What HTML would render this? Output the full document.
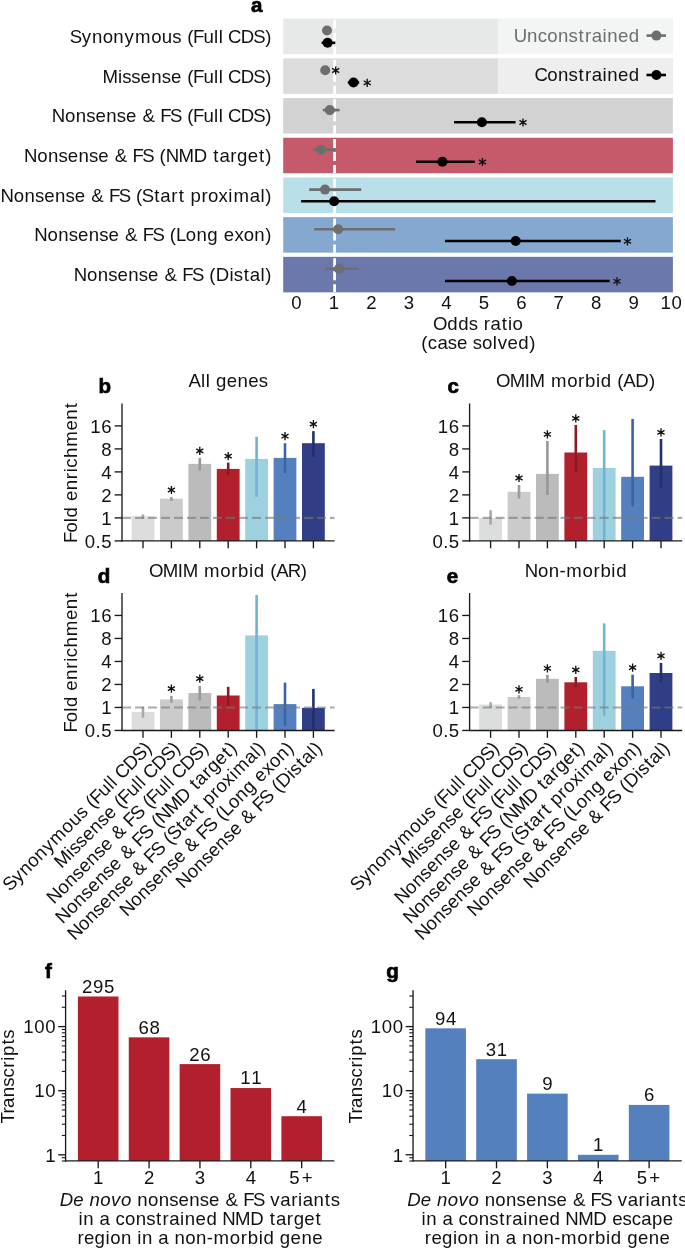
<!DOCTYPE html>
<html><head><meta charset="utf-8"><style>
html,body{margin:0;padding:0;background:#fff;}
svg{display:block;will-change:transform;}
text{font-family:"Liberation Sans",sans-serif;font-size:18.6px;fill:#111111;}
</style></head><body>
<svg width="685" height="1249" viewBox="0 0 685 1249">
<rect width="685" height="1249" fill="#fff"/>
<defs><g id="ast"><path d="M0 -4.1V4.1M-3.55 -2.05L3.55 2.05M-3.55 2.05L3.55 -2.05" stroke="#111" stroke-width="1.35" fill="none"/></g></defs>
<rect x="283.20" y="18.65" width="389.70" height="35.50" fill="#e7e8e8"/>
<rect x="283.20" y="58.35" width="389.70" height="35.50" fill="#dcdcdc"/>
<rect x="283.20" y="98.05" width="389.70" height="35.50" fill="#d2d2d2"/>
<rect x="283.20" y="137.75" width="389.70" height="35.50" fill="#c55a6b"/>
<rect x="283.20" y="177.45" width="389.70" height="35.50" fill="#b9e0e8"/>
<rect x="283.20" y="217.15" width="389.70" height="35.50" fill="#85a8d0"/>
<rect x="283.20" y="256.85" width="389.70" height="35.50" fill="#6b78ac"/>
<rect x="497.80" y="18.65" width="175.10" height="35.50" fill="#fff" fill-opacity="0.5"/>
<rect x="497.80" y="58.35" width="175.10" height="35.50" fill="#fff" fill-opacity="0.5"/>
<line x1="334.60" y1="19.95" x2="334.60" y2="54.15" stroke="#fff" stroke-width="2.8" stroke-dasharray="9 4"/>
<line x1="334.60" y1="59.65" x2="334.60" y2="93.85" stroke="#fff" stroke-width="2.8" stroke-dasharray="9 4"/>
<line x1="334.60" y1="99.35" x2="334.60" y2="133.55" stroke="#fff" stroke-width="2.8" stroke-dasharray="9 4"/>
<line x1="334.60" y1="139.05" x2="334.60" y2="173.25" stroke="#fff" stroke-width="2.8" stroke-dasharray="9 4"/>
<line x1="334.60" y1="178.75" x2="334.60" y2="212.95" stroke="#fff" stroke-width="2.8" stroke-dasharray="9 4"/>
<line x1="334.60" y1="218.45" x2="334.60" y2="252.65" stroke="#fff" stroke-width="2.8" stroke-dasharray="9 4"/>
<line x1="334.60" y1="258.15" x2="334.60" y2="292.35" stroke="#fff" stroke-width="2.8" stroke-dasharray="9 4"/>
<circle cx="327.00" cy="30.50" r="5.0" fill="#6e6e6e"/>
<line x1="321.60" y1="42.80" x2="335.30" y2="42.80" stroke="#000" stroke-width="2.6"/>
<circle cx="327.60" cy="42.80" r="5.0" fill="#000"/>
<text x="69.71 81.84 91.89 102.63 113.37 124.47 134.88 151.13 161.87 172.36 181.66 187.25 192.99 203.46 213.95 218.75 223.37 228.00 240.66 253.29 265.24" y="42.90">Synonymous (Full CDS)</text>
<circle cx="325.20" cy="70.20" r="5.0" fill="#6e6e6e"/>
<use href="#ast" x="335.70" y="70.50"/>
<line x1="347.80" y1="82.50" x2="359.20" y2="82.50" stroke="#000" stroke-width="2.6"/>
<circle cx="353.50" cy="82.50" r="5.0" fill="#000"/>
<use href="#ast" x="367.20" y="82.80"/>
<text x="102.40 117.92 122.22 131.21 140.49 151.26 161.74 171.02 181.66 187.25 192.99 203.46 213.95 218.75 223.37 228.00 240.66 253.29 265.24" y="82.60">Missense (Full CDS)</text>
<line x1="322.80" y1="110.10" x2="339.60" y2="110.10" stroke="#6e6e6e" stroke-width="2.6"/>
<circle cx="329.80" cy="110.10" r="5.0" fill="#6e6e6e"/>
<line x1="454.00" y1="122.20" x2="515.60" y2="122.20" stroke="#000" stroke-width="2.6"/>
<circle cx="481.90" cy="122.20" r="5.0" fill="#000"/>
<use href="#ast" x="523.00" y="122.50"/>
<text x="51.72 65.00 75.74 86.22 95.50 106.27 116.76 126.03 136.67 142.52 155.60 160.21 169.97 181.66 187.25 192.99 203.46 213.95 218.75 223.37 228.00 240.66 253.29 265.24" y="122.30">Nonsense &amp; FS (Full CDS)</text>
<line x1="313.30" y1="149.70" x2="335.00" y2="149.70" stroke="#6e6e6e" stroke-width="2.6"/>
<circle cx="321.00" cy="149.70" r="5.0" fill="#6e6e6e"/>
<line x1="416.00" y1="161.70" x2="474.80" y2="161.70" stroke="#000" stroke-width="2.6"/>
<circle cx="442.40" cy="161.70" r="5.0" fill="#000"/>
<use href="#ast" x="482.40" y="162.00"/>
<text x="23.98 37.25 48.00 58.48 67.76 78.53 89.01 98.29 108.93 114.77 127.86 132.47 142.23 153.91 159.51 165.70 178.57 193.68 207.20 213.32 219.40 230.30 237.10 247.73 259.00 265.24" y="162.00">Nonsense &amp; FS (NMD target)</text>
<line x1="309.20" y1="189.60" x2="361.20" y2="189.60" stroke="#6e6e6e" stroke-width="2.6"/>
<circle cx="325.00" cy="189.60" r="5.0" fill="#6e6e6e"/>
<line x1="301.10" y1="201.20" x2="655.50" y2="201.20" stroke="#000" stroke-width="2.6"/>
<circle cx="334.10" cy="201.20" r="5.0" fill="#000"/>
<text x="0.51 13.78 24.52 35.00 44.28 55.05 65.54 74.81 85.45 91.30 104.39 108.99 118.75 130.44 136.03 141.76 154.24 160.32 171.23 178.67 184.79 190.42 201.51 208.07 218.52 228.34 233.46 249.72 260.51 265.24" y="201.70">Nonsense &amp; FS (Start proximal)</text>
<line x1="314.20" y1="229.30" x2="395.10" y2="229.30" stroke="#6e6e6e" stroke-width="2.6"/>
<circle cx="338.10" cy="229.30" r="5.0" fill="#6e6e6e"/>
<line x1="445.00" y1="241.00" x2="620.80" y2="241.00" stroke="#000" stroke-width="2.6"/>
<circle cx="515.70" cy="241.00" r="5.0" fill="#000"/>
<use href="#ast" x="627.50" y="241.30"/>
<text x="34.28 47.55 58.30 68.78 78.06 88.83 99.31 108.59 119.23 125.07 138.16 142.77 152.53 164.21 169.81 175.90 185.83 196.42 207.37 218.17 223.63 234.41 243.85 254.33 265.24" y="241.40">Nonsense &amp; FS (Long exon)</text>
<line x1="325.30" y1="268.70" x2="358.60" y2="268.70" stroke="#6e6e6e" stroke-width="2.6"/>
<circle cx="339.00" cy="268.70" r="5.0" fill="#6e6e6e"/>
<line x1="445.00" y1="281.00" x2="609.70" y2="281.00" stroke="#000" stroke-width="2.6"/>
<circle cx="511.90" cy="281.00" r="5.0" fill="#000"/>
<use href="#ast" x="617.00" y="281.30"/>
<text x="73.79 87.07 97.81 108.29 117.57 128.34 138.82 148.10 158.74 164.59 177.67 182.28 192.04 203.73 209.32 215.71 229.39 233.70 243.64 249.72 260.51 265.24" y="281.10">Nonsense &amp; FS (Distal)</text>
<text x="291.33" y="308.80">0</text>
<text x="328.80" y="308.80">1</text>
<text x="366.27" y="308.80">2</text>
<text x="403.74" y="308.80">3</text>
<text x="441.21" y="308.80">4</text>
<text x="478.68" y="308.80">5</text>
<text x="516.15" y="308.80">6</text>
<text x="553.62" y="308.80">7</text>
<text x="591.09" y="308.80">8</text>
<text x="628.56" y="308.80">9</text>
<text x="660.54 671.52" y="308.80">10</text>
<text x="432.89 447.22 458.17 468.66 477.96 483.74 490.49 501.75 508.04 512.61" y="330.00">Odds ratio</text>
<text x="421.32 427.87 437.38 447.68 456.95 467.59 472.76 482.01 492.79 497.70 507.59 518.37 529.29" y="349.10">(case solved)</text>
<text x="513.76 527.09 537.82 547.32 558.06 568.54 578.48 584.90 591.65 602.44 607.20 617.97 628.75" y="41.50" style="fill:#6e6e6e;">Unconstrained</text>
<text x="534.47 547.32 558.06 568.54 578.48 584.90 591.65 602.44 607.20 617.97 628.75" y="81.00">Constrained</text>
<line x1="646.50" y1="35.60" x2="666.00" y2="35.60" stroke="#6e6e6e" stroke-width="2.6"/>
<circle cx="656.40" cy="35.60" r="5.0" fill="#6e6e6e"/>
<line x1="646.50" y1="75.00" x2="666.00" y2="75.00" stroke="#000" stroke-width="2.6"/>
<circle cx="656.40" cy="75.00" r="5.0" fill="#000"/>
<text x="251.10" y="12.30" style="font-size:20.5px;font-weight:bold;stroke:#000;stroke-width:0.7px;fill:#000;">a</text>
<rect x="131.60" y="516.20" width="22.80" height="24.70" fill="#dcdddd"/>
<line x1="143.00" y1="514.40" x2="143.00" y2="519.00" stroke="#a8a8a8" stroke-width="2.6"/>
<line x1="143.00" y1="540.90" x2="143.00" y2="548.30" stroke="#1a1a1a" stroke-width="1.35"/>
<rect x="160.00" y="498.70" width="22.80" height="42.20" fill="#cbcbcb"/>
<line x1="171.40" y1="497.00" x2="171.40" y2="500.90" stroke="#9c9c9c" stroke-width="2.6"/>
<use href="#ast" x="171.40" y="490.00"/>
<line x1="171.40" y1="540.90" x2="171.40" y2="548.30" stroke="#1a1a1a" stroke-width="1.35"/>
<rect x="188.40" y="463.90" width="22.80" height="77.00" fill="#bbbbbb"/>
<line x1="199.80" y1="457.90" x2="199.80" y2="470.50" stroke="#979797" stroke-width="2.6"/>
<use href="#ast" x="199.80" y="450.90"/>
<line x1="199.80" y1="540.90" x2="199.80" y2="548.30" stroke="#1a1a1a" stroke-width="1.35"/>
<rect x="216.80" y="468.90" width="22.80" height="72.00" fill="#b2202e"/>
<line x1="228.20" y1="462.60" x2="228.20" y2="475.20" stroke="#8c1a24" stroke-width="2.6"/>
<use href="#ast" x="228.20" y="456.10"/>
<line x1="228.20" y1="540.90" x2="228.20" y2="548.30" stroke="#1a1a1a" stroke-width="1.35"/>
<rect x="245.20" y="458.90" width="22.80" height="82.00" fill="#9ed1df"/>
<line x1="256.60" y1="436.70" x2="256.60" y2="496.90" stroke="#70b4d2" stroke-width="2.6"/>
<line x1="256.60" y1="540.90" x2="256.60" y2="548.30" stroke="#1a1a1a" stroke-width="1.35"/>
<rect x="273.60" y="457.90" width="22.80" height="83.00" fill="#5580be"/>
<line x1="285.00" y1="443.20" x2="285.00" y2="472.90" stroke="#3b64a0" stroke-width="2.6"/>
<use href="#ast" x="285.00" y="436.20"/>
<line x1="285.00" y1="540.90" x2="285.00" y2="548.30" stroke="#1a1a1a" stroke-width="1.35"/>
<rect x="302.00" y="443.20" width="22.80" height="97.70" fill="#2f3e85"/>
<line x1="313.40" y1="431.10" x2="313.40" y2="456.80" stroke="#22306b" stroke-width="2.6"/>
<use href="#ast" x="313.40" y="424.10"/>
<line x1="313.40" y1="540.90" x2="313.40" y2="548.30" stroke="#1a1a1a" stroke-width="1.35"/>
<line x1="122.00" y1="517.90" x2="334.60" y2="517.90" stroke="#777777" stroke-width="2.1" stroke-dasharray="9 4" stroke-opacity="0.6"/>
<line x1="122.00" y1="403.50" x2="122.00" y2="541.55" stroke="#1a1a1a" stroke-width="1.35"/>
<line x1="121.35" y1="540.90" x2="334.60" y2="540.90" stroke="#1a1a1a" stroke-width="1.35"/>
<line x1="114.60" y1="540.90" x2="122.00" y2="540.90" stroke="#1a1a1a" stroke-width="1.35"/>
<text x="84.78 95.60 101.24" y="547.50">0.5</text>
<line x1="114.60" y1="517.90" x2="122.00" y2="517.90" stroke="#1a1a1a" stroke-width="1.35"/>
<text x="101.24" y="524.50">1</text>
<line x1="114.60" y1="494.90" x2="122.00" y2="494.90" stroke="#1a1a1a" stroke-width="1.35"/>
<text x="101.24" y="501.50">2</text>
<line x1="114.60" y1="471.90" x2="122.00" y2="471.90" stroke="#1a1a1a" stroke-width="1.35"/>
<text x="101.24" y="478.50">4</text>
<line x1="114.60" y1="448.90" x2="122.00" y2="448.90" stroke="#1a1a1a" stroke-width="1.35"/>
<text x="101.24" y="455.50">8</text>
<line x1="114.60" y1="425.90" x2="122.00" y2="425.90" stroke="#1a1a1a" stroke-width="1.35"/>
<text x="90.27 101.24" y="432.50">16</text>
<text x="188.51 200.95 205.74 210.36 215.99 226.77 237.54 248.32 258.64" y="387.10">All genes</text>
<text x="6.06 16.50 26.97 31.73 42.54 48.00 58.77 69.86 76.83 81.39 91.07 102.37 118.65 129.42 140.86" y="472.30" transform="rotate(-90 76.80 472.30)">Fold enrichment</text>
<rect x="479.20" y="518.00" width="22.80" height="22.90" fill="#dcdddd"/>
<line x1="490.60" y1="510.20" x2="490.60" y2="524.70" stroke="#a8a8a8" stroke-width="2.6"/>
<line x1="490.60" y1="540.90" x2="490.60" y2="548.30" stroke="#1a1a1a" stroke-width="1.35"/>
<rect x="507.60" y="491.80" width="22.80" height="49.10" fill="#cbcbcb"/>
<line x1="519.00" y1="485.00" x2="519.00" y2="498.50" stroke="#9c9c9c" stroke-width="2.6"/>
<use href="#ast" x="519.00" y="478.00"/>
<line x1="519.00" y1="540.90" x2="519.00" y2="548.30" stroke="#1a1a1a" stroke-width="1.35"/>
<rect x="536.00" y="473.90" width="22.80" height="67.00" fill="#bbbbbb"/>
<line x1="547.40" y1="441.00" x2="547.40" y2="495.00" stroke="#979797" stroke-width="2.6"/>
<use href="#ast" x="547.40" y="434.30"/>
<line x1="547.40" y1="540.90" x2="547.40" y2="548.30" stroke="#1a1a1a" stroke-width="1.35"/>
<rect x="564.40" y="452.50" width="22.80" height="88.40" fill="#b2202e"/>
<line x1="575.80" y1="424.90" x2="575.80" y2="472.10" stroke="#8c1a24" stroke-width="2.6"/>
<use href="#ast" x="575.80" y="418.40"/>
<line x1="575.80" y1="540.90" x2="575.80" y2="548.30" stroke="#1a1a1a" stroke-width="1.35"/>
<rect x="592.80" y="467.90" width="22.80" height="73.00" fill="#9ed1df"/>
<line x1="604.20" y1="430.10" x2="604.20" y2="540.70" stroke="#70b4d2" stroke-width="2.6"/>
<line x1="604.20" y1="540.90" x2="604.20" y2="548.30" stroke="#1a1a1a" stroke-width="1.35"/>
<rect x="621.20" y="476.80" width="22.80" height="64.10" fill="#5580be"/>
<line x1="632.60" y1="418.90" x2="632.60" y2="506.50" stroke="#3b64a0" stroke-width="2.6"/>
<line x1="632.60" y1="540.90" x2="632.60" y2="548.30" stroke="#1a1a1a" stroke-width="1.35"/>
<rect x="649.60" y="465.60" width="22.80" height="75.30" fill="#2f3e85"/>
<line x1="661.00" y1="439.00" x2="661.00" y2="487.50" stroke="#22306b" stroke-width="2.6"/>
<use href="#ast" x="661.00" y="432.40"/>
<line x1="661.00" y1="540.90" x2="661.00" y2="548.30" stroke="#1a1a1a" stroke-width="1.35"/>
<line x1="469.60" y1="517.90" x2="682.20" y2="517.90" stroke="#777777" stroke-width="2.1" stroke-dasharray="9 4" stroke-opacity="0.6"/>
<line x1="469.60" y1="403.50" x2="469.60" y2="541.55" stroke="#1a1a1a" stroke-width="1.35"/>
<line x1="468.95" y1="540.90" x2="682.20" y2="540.90" stroke="#1a1a1a" stroke-width="1.35"/>
<line x1="462.20" y1="540.90" x2="469.60" y2="540.90" stroke="#1a1a1a" stroke-width="1.35"/>
<text x="432.38 443.20 448.84" y="547.50">0.5</text>
<line x1="462.20" y1="517.90" x2="469.60" y2="517.90" stroke="#1a1a1a" stroke-width="1.35"/>
<text x="448.84" y="524.50">1</text>
<line x1="462.20" y1="494.90" x2="469.60" y2="494.90" stroke="#1a1a1a" stroke-width="1.35"/>
<text x="448.84" y="501.50">2</text>
<line x1="462.20" y1="471.90" x2="469.60" y2="471.90" stroke="#1a1a1a" stroke-width="1.35"/>
<text x="448.84" y="478.50">4</text>
<line x1="462.20" y1="448.90" x2="469.60" y2="448.90" stroke="#1a1a1a" stroke-width="1.35"/>
<text x="448.84" y="455.50">8</text>
<line x1="462.20" y1="425.90" x2="469.60" y2="425.90" stroke="#1a1a1a" stroke-width="1.35"/>
<text x="437.87 448.84" y="432.50">16</text>
<text x="495.91 509.63 524.78 529.60 544.95 550.93 567.18 578.08 585.03 596.00 600.77 611.57 617.17 623.33 635.35 648.98" y="387.10">OMIM morbid (AD)</text>
<rect x="131.60" y="712.00" width="22.80" height="18.45" fill="#dcdddd"/>
<line x1="143.00" y1="706.80" x2="143.00" y2="717.70" stroke="#a8a8a8" stroke-width="2.6"/>
<line x1="143.00" y1="730.45" x2="143.00" y2="737.85" stroke="#1a1a1a" stroke-width="1.35"/>
<rect x="160.00" y="699.40" width="22.80" height="31.05" fill="#cbcbcb"/>
<line x1="171.40" y1="695.90" x2="171.40" y2="702.80" stroke="#9c9c9c" stroke-width="2.6"/>
<use href="#ast" x="171.40" y="688.60"/>
<line x1="171.40" y1="730.45" x2="171.40" y2="737.85" stroke="#1a1a1a" stroke-width="1.35"/>
<rect x="188.40" y="693.00" width="22.80" height="37.45" fill="#bbbbbb"/>
<line x1="199.80" y1="686.00" x2="199.80" y2="700.50" stroke="#979797" stroke-width="2.6"/>
<use href="#ast" x="199.80" y="678.60"/>
<line x1="199.80" y1="730.45" x2="199.80" y2="737.85" stroke="#1a1a1a" stroke-width="1.35"/>
<rect x="216.80" y="695.50" width="22.80" height="34.95" fill="#b2202e"/>
<line x1="228.20" y1="686.80" x2="228.20" y2="706.00" stroke="#8c1a24" stroke-width="2.6"/>
<line x1="228.20" y1="730.45" x2="228.20" y2="737.85" stroke="#1a1a1a" stroke-width="1.35"/>
<rect x="245.20" y="635.40" width="22.80" height="95.05" fill="#9ed1df"/>
<line x1="256.60" y1="595.00" x2="256.60" y2="730.20" stroke="#70b4d2" stroke-width="2.6"/>
<line x1="256.60" y1="730.45" x2="256.60" y2="737.85" stroke="#1a1a1a" stroke-width="1.35"/>
<rect x="273.60" y="704.10" width="22.80" height="26.35" fill="#5580be"/>
<line x1="285.00" y1="682.60" x2="285.00" y2="725.90" stroke="#3b64a0" stroke-width="2.6"/>
<line x1="285.00" y1="730.45" x2="285.00" y2="737.85" stroke="#1a1a1a" stroke-width="1.35"/>
<rect x="302.00" y="707.90" width="22.80" height="22.55" fill="#2f3e85"/>
<line x1="313.40" y1="688.90" x2="313.40" y2="730.20" stroke="#22306b" stroke-width="2.6"/>
<line x1="313.40" y1="730.45" x2="313.40" y2="737.85" stroke="#1a1a1a" stroke-width="1.35"/>
<line x1="122.00" y1="707.45" x2="334.60" y2="707.45" stroke="#777777" stroke-width="2.1" stroke-dasharray="9 4" stroke-opacity="0.6"/>
<line x1="122.00" y1="593.05" x2="122.00" y2="731.10" stroke="#1a1a1a" stroke-width="1.35"/>
<line x1="121.35" y1="730.45" x2="334.60" y2="730.45" stroke="#1a1a1a" stroke-width="1.35"/>
<line x1="114.60" y1="730.45" x2="122.00" y2="730.45" stroke="#1a1a1a" stroke-width="1.35"/>
<text x="84.78 95.60 101.24" y="737.05">0.5</text>
<line x1="114.60" y1="707.45" x2="122.00" y2="707.45" stroke="#1a1a1a" stroke-width="1.35"/>
<text x="101.24" y="714.05">1</text>
<line x1="114.60" y1="684.45" x2="122.00" y2="684.45" stroke="#1a1a1a" stroke-width="1.35"/>
<text x="101.24" y="691.05">2</text>
<line x1="114.60" y1="661.45" x2="122.00" y2="661.45" stroke="#1a1a1a" stroke-width="1.35"/>
<text x="101.24" y="668.05">4</text>
<line x1="114.60" y1="638.45" x2="122.00" y2="638.45" stroke="#1a1a1a" stroke-width="1.35"/>
<text x="101.24" y="645.05">8</text>
<line x1="114.60" y1="615.45" x2="122.00" y2="615.45" stroke="#1a1a1a" stroke-width="1.35"/>
<text x="90.27 101.24" y="622.05">16</text>
<text x="148.96 162.68 177.83 182.65 198.00 203.98 220.23 231.13 238.07 249.05 253.82 264.62 270.21 276.37 287.75 300.73" y="576.65">OMIM morbid (AR)</text>
<text x="6.06 16.50 26.97 31.73 42.54 48.00 58.77 69.86 76.83 81.39 91.07 102.37 118.65 129.42 140.86" y="661.85" transform="rotate(-90 76.80 661.85)">Fold enrichment</text>
<text x="-49.19 -37.06 -27.01 -16.27 -5.53 5.57 15.98 32.23 42.97 53.46 62.76 68.35 74.09 84.56 95.05 99.85 104.47 109.10 121.76 134.39 146.34" y="749.25" transform="rotate(-45 152.80 749.25)">Synonymous (Full CDS)</text>
<text x="11.90 27.42 31.72 40.71 49.99 60.76 71.24 80.52 91.16 96.75 102.49 112.96 123.45 128.25 132.87 137.50 150.16 162.79 174.74" y="749.25" transform="rotate(-45 181.20 749.25)">Missense (Full CDS)</text>
<text x="-10.38 2.90 13.64 24.12 33.40 44.17 54.66 63.93 74.57 80.42 93.50 98.11 107.87 119.56 125.15 130.89 141.36 151.85 156.65 161.27 165.90 178.56 191.19 203.14" y="749.25" transform="rotate(-45 209.60 749.25)">Nonsense &amp; FS (Full CDS)</text>
<text x="-9.72 3.55 14.30 24.78 34.06 44.83 55.31 64.59 75.23 81.07 94.16 98.77 108.53 120.21 125.81 132.00 144.87 159.98 173.50 179.62 185.70 196.60 203.40 214.03 225.30 231.54" y="749.25" transform="rotate(-45 238.00 749.25)">Nonsense &amp; FS (NMD target)</text>
<text x="-4.79 8.48 19.22 29.70 38.98 49.75 60.24 69.51 80.15 86.00 99.09 103.69 113.45 125.14 130.73 136.46 148.94 155.02 165.93 173.37 179.49 185.12 196.21 202.77 213.22 223.04 228.16 244.42 255.21 259.94" y="749.25" transform="rotate(-45 266.40 749.25)">Nonsense &amp; FS (Start proximal)</text>
<text x="57.38 70.65 81.40 91.88 101.16 111.93 122.41 131.69 142.33 148.17 161.26 165.87 175.63 187.31 192.91 199.00 208.93 219.52 230.47 241.27 246.73 257.51 266.95 277.43 288.34" y="749.25" transform="rotate(-45 294.80 749.25)">Nonsense &amp; FS (Long exon)</text>
<text x="125.29 138.57 149.31 159.79 169.07 179.84 190.32 199.60 210.24 216.09 229.17 233.78 243.54 255.23 260.82 267.21 280.89 285.20 295.14 301.22 312.01 316.74" y="749.25" transform="rotate(-45 323.20 749.25)">Nonsense &amp; FS (Distal)</text>
<rect x="479.20" y="704.50" width="22.80" height="25.95" fill="#dcdddd"/>
<line x1="490.60" y1="702.20" x2="490.60" y2="708.00" stroke="#a8a8a8" stroke-width="2.6"/>
<line x1="490.60" y1="730.45" x2="490.60" y2="737.85" stroke="#1a1a1a" stroke-width="1.35"/>
<rect x="507.60" y="697.00" width="22.80" height="33.45" fill="#cbcbcb"/>
<line x1="519.00" y1="695.20" x2="519.00" y2="698.70" stroke="#9c9c9c" stroke-width="2.6"/>
<use href="#ast" x="519.00" y="689.30"/>
<line x1="519.00" y1="730.45" x2="519.00" y2="737.85" stroke="#1a1a1a" stroke-width="1.35"/>
<rect x="536.00" y="678.80" width="22.80" height="51.65" fill="#bbbbbb"/>
<line x1="547.40" y1="674.80" x2="547.40" y2="682.80" stroke="#979797" stroke-width="2.6"/>
<use href="#ast" x="547.40" y="668.30"/>
<line x1="547.40" y1="730.45" x2="547.40" y2="737.85" stroke="#1a1a1a" stroke-width="1.35"/>
<rect x="564.40" y="682.30" width="22.80" height="48.15" fill="#b2202e"/>
<line x1="575.80" y1="676.90" x2="575.80" y2="687.00" stroke="#8c1a24" stroke-width="2.6"/>
<use href="#ast" x="575.80" y="669.90"/>
<line x1="575.80" y1="730.45" x2="575.80" y2="737.85" stroke="#1a1a1a" stroke-width="1.35"/>
<rect x="592.80" y="650.80" width="22.80" height="79.65" fill="#9ed1df"/>
<line x1="604.20" y1="623.40" x2="604.20" y2="715.70" stroke="#70b4d2" stroke-width="2.6"/>
<line x1="604.20" y1="730.45" x2="604.20" y2="737.85" stroke="#1a1a1a" stroke-width="1.35"/>
<rect x="621.20" y="686.30" width="22.80" height="44.15" fill="#5580be"/>
<line x1="632.60" y1="674.60" x2="632.60" y2="698.70" stroke="#3b64a0" stroke-width="2.6"/>
<use href="#ast" x="632.60" y="667.60"/>
<line x1="632.60" y1="730.45" x2="632.60" y2="737.85" stroke="#1a1a1a" stroke-width="1.35"/>
<rect x="649.60" y="673.00" width="22.80" height="57.45" fill="#2f3e85"/>
<line x1="661.00" y1="662.90" x2="661.00" y2="683.00" stroke="#22306b" stroke-width="2.6"/>
<use href="#ast" x="661.00" y="655.90"/>
<line x1="661.00" y1="730.45" x2="661.00" y2="737.85" stroke="#1a1a1a" stroke-width="1.35"/>
<line x1="469.60" y1="707.45" x2="682.20" y2="707.45" stroke="#777777" stroke-width="2.1" stroke-dasharray="9 4" stroke-opacity="0.6"/>
<line x1="469.60" y1="593.05" x2="469.60" y2="731.10" stroke="#1a1a1a" stroke-width="1.35"/>
<line x1="468.95" y1="730.45" x2="682.20" y2="730.45" stroke="#1a1a1a" stroke-width="1.35"/>
<line x1="462.20" y1="730.45" x2="469.60" y2="730.45" stroke="#1a1a1a" stroke-width="1.35"/>
<text x="432.38 443.20 448.84" y="737.05">0.5</text>
<line x1="462.20" y1="707.45" x2="469.60" y2="707.45" stroke="#1a1a1a" stroke-width="1.35"/>
<text x="448.84" y="714.05">1</text>
<line x1="462.20" y1="684.45" x2="469.60" y2="684.45" stroke="#1a1a1a" stroke-width="1.35"/>
<text x="448.84" y="691.05">2</text>
<line x1="462.20" y1="661.45" x2="469.60" y2="661.45" stroke="#1a1a1a" stroke-width="1.35"/>
<text x="448.84" y="668.05">4</text>
<line x1="462.20" y1="638.45" x2="469.60" y2="638.45" stroke="#1a1a1a" stroke-width="1.35"/>
<text x="448.84" y="645.05">8</text>
<line x1="462.20" y1="615.45" x2="469.60" y2="615.45" stroke="#1a1a1a" stroke-width="1.35"/>
<text x="437.87 448.84" y="622.05">16</text>
<text x="524.76 538.03 548.77 559.43 566.29 582.55 593.44 600.39 611.37 616.13" y="576.65">Non-morbid</text>
<text x="298.41 310.54 320.59 331.33 342.07 353.17 363.58 379.83 390.57 401.06 410.36 415.95 421.69 432.16 442.65 447.45 452.07 456.70 469.36 481.99 493.94" y="749.25" transform="rotate(-45 500.40 749.25)">Synonymous (Full CDS)</text>
<text x="359.50 375.02 379.32 388.31 397.59 408.36 418.84 428.12 438.76 444.35 450.09 460.56 471.05 475.85 480.47 485.10 497.76 510.39 522.34" y="749.25" transform="rotate(-45 528.80 749.25)">Missense (Full CDS)</text>
<text x="337.22 350.50 361.24 371.72 381.00 391.77 402.26 411.53 422.17 428.02 441.10 445.71 455.47 467.16 472.75 478.49 488.96 499.45 504.25 508.87 513.50 526.16 538.79 550.74" y="749.25" transform="rotate(-45 557.20 749.25)">Nonsense &amp; FS (Full CDS)</text>
<text x="337.88 351.15 361.90 372.38 381.66 392.43 402.91 412.19 422.83 428.67 441.76 446.37 456.13 467.81 473.41 479.60 492.47 507.58 521.10 527.22 533.30 544.20 551.00 561.63 572.90 579.14" y="749.25" transform="rotate(-45 585.60 749.25)">Nonsense &amp; FS (NMD target)</text>
<text x="342.81 356.08 366.82 377.30 386.58 397.35 407.84 417.11 427.75 433.60 446.69 451.29 461.05 472.74 478.33 484.06 496.54 502.62 513.53 520.97 527.09 532.72 543.81 550.37 560.82 570.64 575.76 592.02 602.81 607.54" y="749.25" transform="rotate(-45 614.00 749.25)">Nonsense &amp; FS (Start proximal)</text>
<text x="404.98 418.25 429.00 439.48 448.76 459.53 470.01 479.29 489.93 495.77 508.86 513.47 523.23 534.91 540.51 546.60 556.53 567.12 578.07 588.87 594.33 605.11 614.55 625.03 635.94" y="749.25" transform="rotate(-45 642.40 749.25)">Nonsense &amp; FS (Long exon)</text>
<text x="472.89 486.17 496.91 507.39 516.67 527.44 537.92 547.20 557.84 563.69 576.77 581.38 591.14 602.83 608.42 614.81 628.49 632.80 642.74 648.82 659.61 664.34" y="749.25" transform="rotate(-45 670.80 749.25)">Nonsense &amp; FS (Distal)</text>
<rect x="77.90" y="996.48" width="40.60" height="164.42" fill="#b2202e"/>
<text x="82.05 93.03 104.00" y="992.88">295</text>
<line x1="98.20" y1="1160.90" x2="98.20" y2="1168.30" stroke="#1a1a1a" stroke-width="1.35"/>
<text x="93.03" y="1184.20">1</text>
<rect x="128.77" y="1037.34" width="40.60" height="123.56" fill="#b2202e"/>
<text x="138.41 149.39" y="1033.74">68</text>
<line x1="149.07" y1="1160.90" x2="149.07" y2="1168.30" stroke="#1a1a1a" stroke-width="1.35"/>
<text x="143.90" y="1184.20">2</text>
<rect x="179.64" y="1064.10" width="40.60" height="96.80" fill="#b2202e"/>
<text x="189.28 200.26" y="1060.50">26</text>
<line x1="199.94" y1="1160.90" x2="199.94" y2="1168.30" stroke="#1a1a1a" stroke-width="1.35"/>
<text x="194.77" y="1184.20">3</text>
<rect x="230.51" y="1088.05" width="40.60" height="72.85" fill="#b2202e"/>
<text x="240.15 251.13" y="1084.45">11</text>
<line x1="250.81" y1="1160.90" x2="250.81" y2="1168.30" stroke="#1a1a1a" stroke-width="1.35"/>
<text x="245.64" y="1184.20">4</text>
<rect x="281.38" y="1116.21" width="40.60" height="44.69" fill="#b2202e"/>
<text x="296.51" y="1112.61">4</text>
<line x1="301.68" y1="1160.90" x2="301.68" y2="1168.30" stroke="#1a1a1a" stroke-width="1.35"/>
<text x="289.28 301.74" y="1184.20">5+</text>
<line x1="65.60" y1="990.20" x2="65.60" y2="1161.55" stroke="#1a1a1a" stroke-width="1.35"/>
<line x1="64.95" y1="1160.90" x2="334.30" y2="1160.90" stroke="#1a1a1a" stroke-width="1.35"/>
<line x1="58.20" y1="1154.80" x2="65.60" y2="1154.80" stroke="#1a1a1a" stroke-width="1.35"/>
<text x="45.24" y="1161.50">1</text>
<line x1="58.20" y1="1090.70" x2="65.60" y2="1090.70" stroke="#1a1a1a" stroke-width="1.35"/>
<text x="34.27 45.24" y="1097.40">10</text>
<line x1="58.20" y1="1026.60" x2="65.60" y2="1026.60" stroke="#1a1a1a" stroke-width="1.35"/>
<text x="23.29 34.27 45.24" y="1033.30">100</text>
<line x1="61.80" y1="1161.01" x2="65.60" y2="1161.01" stroke="#1a1a1a" stroke-width="1.1"/>
<line x1="61.80" y1="1157.73" x2="65.60" y2="1157.73" stroke="#1a1a1a" stroke-width="1.1"/>
<line x1="61.80" y1="1135.50" x2="65.60" y2="1135.50" stroke="#1a1a1a" stroke-width="1.1"/>
<line x1="61.80" y1="1124.22" x2="65.60" y2="1124.22" stroke="#1a1a1a" stroke-width="1.1"/>
<line x1="61.80" y1="1116.21" x2="65.60" y2="1116.21" stroke="#1a1a1a" stroke-width="1.1"/>
<line x1="61.80" y1="1110.00" x2="65.60" y2="1110.00" stroke="#1a1a1a" stroke-width="1.1"/>
<line x1="61.80" y1="1104.92" x2="65.60" y2="1104.92" stroke="#1a1a1a" stroke-width="1.1"/>
<line x1="61.80" y1="1100.63" x2="65.60" y2="1100.63" stroke="#1a1a1a" stroke-width="1.1"/>
<line x1="61.80" y1="1096.91" x2="65.60" y2="1096.91" stroke="#1a1a1a" stroke-width="1.1"/>
<line x1="61.80" y1="1093.63" x2="65.60" y2="1093.63" stroke="#1a1a1a" stroke-width="1.1"/>
<line x1="61.80" y1="1071.40" x2="65.60" y2="1071.40" stroke="#1a1a1a" stroke-width="1.1"/>
<line x1="61.80" y1="1060.12" x2="65.60" y2="1060.12" stroke="#1a1a1a" stroke-width="1.1"/>
<line x1="61.80" y1="1052.11" x2="65.60" y2="1052.11" stroke="#1a1a1a" stroke-width="1.1"/>
<line x1="61.80" y1="1045.90" x2="65.60" y2="1045.90" stroke="#1a1a1a" stroke-width="1.1"/>
<line x1="61.80" y1="1040.82" x2="65.60" y2="1040.82" stroke="#1a1a1a" stroke-width="1.1"/>
<line x1="61.80" y1="1036.53" x2="65.60" y2="1036.53" stroke="#1a1a1a" stroke-width="1.1"/>
<line x1="61.80" y1="1032.81" x2="65.60" y2="1032.81" stroke="#1a1a1a" stroke-width="1.1"/>
<line x1="61.80" y1="1029.53" x2="65.60" y2="1029.53" stroke="#1a1a1a" stroke-width="1.1"/>
<line x1="61.80" y1="1007.30" x2="65.60" y2="1007.30" stroke="#1a1a1a" stroke-width="1.1"/>
<line x1="61.80" y1="996.02" x2="65.60" y2="996.02" stroke="#1a1a1a" stroke-width="1.1"/>
<text x="59.70 73.19 83.83 89.45 100.19 111.09 120.95" y="1206.30" style="font-style:italic;">De novo</text>
<text x="137.18 147.92 158.67 169.15 178.43 189.20 199.68 208.96 219.60 225.44 238.53 243.14 252.90 264.58 270.36 280.23 291.14 298.11 302.68 313.44 324.87 330.68" y="1206.30">nonsense &amp; FS variants</text>
<text x="78.42 83.18 93.97 99.41 110.03 115.44 124.94 135.68 146.17 156.11 162.52 169.28 180.07 184.82 195.60 206.38 217.18 222.24 235.11 250.22 263.74 269.86 275.94 286.84 293.64 304.27 315.55" y="1225.20">in a constrained NMD target</text>
<text x="77.41 84.00 94.59 105.57 110.13 120.88 131.67 137.33 142.09 152.88 158.32 168.94 174.56 185.30 196.04 206.70 213.56 229.81 240.71 247.66 258.64 263.40 274.21 279.83 290.61 301.39 312.16" y="1244.10">region in a non-morbid gene</text>
<text x="-33.04 -22.91 -17.42 -6.67 3.81 13.05 22.89 29.86 34.63 46.07 51.88" y="1076.30" transform="rotate(-90 14.20 1076.30)">Transcripts</text>
<rect x="425.35" y="1028.32" width="40.60" height="132.58" fill="#5580be"/>
<text x="434.99 445.97" y="1024.72">94</text>
<line x1="445.65" y1="1160.90" x2="445.65" y2="1168.30" stroke="#1a1a1a" stroke-width="1.35"/>
<text x="440.48" y="1184.20">1</text>
<rect x="476.22" y="1059.20" width="40.60" height="101.70" fill="#5580be"/>
<text x="485.86 496.84" y="1055.60">31</text>
<line x1="496.52" y1="1160.90" x2="496.52" y2="1168.30" stroke="#1a1a1a" stroke-width="1.35"/>
<text x="491.35" y="1184.20">2</text>
<rect x="527.09" y="1093.63" width="40.60" height="67.27" fill="#5580be"/>
<text x="542.22" y="1090.03">9</text>
<line x1="547.39" y1="1160.90" x2="547.39" y2="1168.30" stroke="#1a1a1a" stroke-width="1.35"/>
<text x="542.22" y="1184.20">3</text>
<rect x="577.96" y="1154.80" width="40.60" height="6.10" fill="#5580be"/>
<text x="593.09" y="1151.20">1</text>
<line x1="598.26" y1="1160.90" x2="598.26" y2="1168.30" stroke="#1a1a1a" stroke-width="1.35"/>
<text x="593.09" y="1184.20">4</text>
<rect x="628.83" y="1104.92" width="40.60" height="55.98" fill="#5580be"/>
<text x="643.96" y="1101.32">6</text>
<line x1="649.13" y1="1160.90" x2="649.13" y2="1168.30" stroke="#1a1a1a" stroke-width="1.35"/>
<text x="636.73 649.19" y="1184.20">5+</text>
<line x1="413.05" y1="990.20" x2="413.05" y2="1161.55" stroke="#1a1a1a" stroke-width="1.35"/>
<line x1="412.40" y1="1160.90" x2="681.75" y2="1160.90" stroke="#1a1a1a" stroke-width="1.35"/>
<line x1="405.65" y1="1154.80" x2="413.05" y2="1154.80" stroke="#1a1a1a" stroke-width="1.35"/>
<text x="392.69" y="1161.50">1</text>
<line x1="405.65" y1="1090.70" x2="413.05" y2="1090.70" stroke="#1a1a1a" stroke-width="1.35"/>
<text x="381.72 392.69" y="1097.40">10</text>
<line x1="405.65" y1="1026.60" x2="413.05" y2="1026.60" stroke="#1a1a1a" stroke-width="1.35"/>
<text x="370.74 381.72 392.69" y="1033.30">100</text>
<line x1="409.25" y1="1161.01" x2="413.05" y2="1161.01" stroke="#1a1a1a" stroke-width="1.1"/>
<line x1="409.25" y1="1157.73" x2="413.05" y2="1157.73" stroke="#1a1a1a" stroke-width="1.1"/>
<line x1="409.25" y1="1135.50" x2="413.05" y2="1135.50" stroke="#1a1a1a" stroke-width="1.1"/>
<line x1="409.25" y1="1124.22" x2="413.05" y2="1124.22" stroke="#1a1a1a" stroke-width="1.1"/>
<line x1="409.25" y1="1116.21" x2="413.05" y2="1116.21" stroke="#1a1a1a" stroke-width="1.1"/>
<line x1="409.25" y1="1110.00" x2="413.05" y2="1110.00" stroke="#1a1a1a" stroke-width="1.1"/>
<line x1="409.25" y1="1104.92" x2="413.05" y2="1104.92" stroke="#1a1a1a" stroke-width="1.1"/>
<line x1="409.25" y1="1100.63" x2="413.05" y2="1100.63" stroke="#1a1a1a" stroke-width="1.1"/>
<line x1="409.25" y1="1096.91" x2="413.05" y2="1096.91" stroke="#1a1a1a" stroke-width="1.1"/>
<line x1="409.25" y1="1093.63" x2="413.05" y2="1093.63" stroke="#1a1a1a" stroke-width="1.1"/>
<line x1="409.25" y1="1071.40" x2="413.05" y2="1071.40" stroke="#1a1a1a" stroke-width="1.1"/>
<line x1="409.25" y1="1060.12" x2="413.05" y2="1060.12" stroke="#1a1a1a" stroke-width="1.1"/>
<line x1="409.25" y1="1052.11" x2="413.05" y2="1052.11" stroke="#1a1a1a" stroke-width="1.1"/>
<line x1="409.25" y1="1045.90" x2="413.05" y2="1045.90" stroke="#1a1a1a" stroke-width="1.1"/>
<line x1="409.25" y1="1040.82" x2="413.05" y2="1040.82" stroke="#1a1a1a" stroke-width="1.1"/>
<line x1="409.25" y1="1036.53" x2="413.05" y2="1036.53" stroke="#1a1a1a" stroke-width="1.1"/>
<line x1="409.25" y1="1032.81" x2="413.05" y2="1032.81" stroke="#1a1a1a" stroke-width="1.1"/>
<line x1="409.25" y1="1029.53" x2="413.05" y2="1029.53" stroke="#1a1a1a" stroke-width="1.1"/>
<line x1="409.25" y1="1007.30" x2="413.05" y2="1007.30" stroke="#1a1a1a" stroke-width="1.1"/>
<line x1="409.25" y1="996.02" x2="413.05" y2="996.02" stroke="#1a1a1a" stroke-width="1.1"/>
<text x="407.15 420.64 431.28 436.90 447.64 458.54 468.40" y="1206.30" style="font-style:italic;">De novo</text>
<text x="484.63 495.37 506.12 516.60 525.88 536.65 547.13 556.41 567.05 572.89 585.98 590.59 600.35 612.03 617.81 627.68 638.59 645.56 650.13 660.89 672.32 678.13" y="1206.30">nonsense &amp; FS variants</text>
<text x="421.49 426.24 437.04 442.48 453.09 458.51 468.01 478.75 489.23 499.17 505.59 512.35 523.13 527.89 538.66 549.44 560.25 565.31 578.17 593.29 606.80 612.26 622.58 631.82 641.32 652.09 662.87" y="1225.20">in a constrained NMD escape</text>
<text x="424.86 431.45 442.04 453.02 457.58 468.33 479.12 484.78 489.54 500.33 505.77 516.39 522.01 532.75 543.49 554.15 561.01 577.26 588.16 595.11 606.09 610.85 621.66 627.28 638.06 648.84 659.61" y="1244.10">region in a non-morbid gene</text>
<text x="314.41 324.54 330.03 340.78 351.26 360.50 370.34 377.31 382.08 393.52 399.33" y="1076.30" transform="rotate(-90 361.65 1076.30)">Transcripts</text>
<text x="98.54" y="393.30" style="font-size:20.5px;font-weight:bold;stroke:#000;stroke-width:0.7px;fill:#000;">b</text>
<text x="447.45" y="393.40" style="font-size:20.5px;font-weight:bold;stroke:#000;stroke-width:0.7px;fill:#000;">c</text>
<text x="97.79" y="582.50" style="font-size:20.5px;font-weight:bold;stroke:#000;stroke-width:0.7px;fill:#000;">d</text>
<text x="446.65" y="582.60" style="font-size:20.5px;font-weight:bold;stroke:#000;stroke-width:0.7px;fill:#000;">e</text>
<text x="44.99" y="977.50" style="font-size:20.5px;font-weight:bold;stroke:#000;stroke-width:0.7px;fill:#000;">f</text>
<text x="386.34" y="977.50" style="font-size:20.5px;font-weight:bold;stroke:#000;stroke-width:0.7px;fill:#000;">g</text>
</svg></body></html>
